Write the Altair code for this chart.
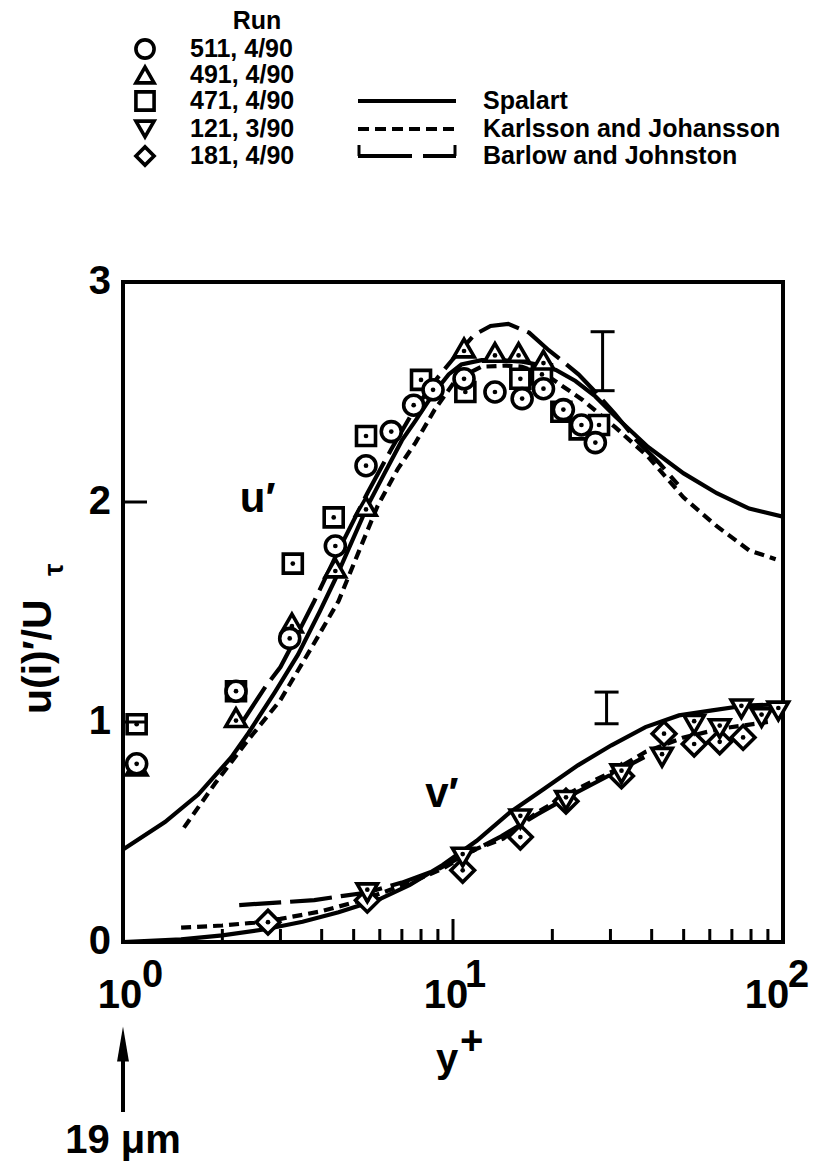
import altair as alt
import pandas as pd

FONT = "Liberation Sans Narrow, Liberation Sans, Arial, sans-serif"

# ---------------- data ----------------
# u' measurements
u511_x = [1.1, 2.2, 3.2, 4.4, 5.45, 6.5, 7.6, 8.7, 10.8, 13.4, 16.2, 18.8, 21.6, 24.5, 27.0]
u511_y = [0.81, 1.14, 1.38, 1.80, 2.165, 2.32, 2.44, 2.51, 2.56, 2.50, 2.47, 2.515, 2.42, 2.35, 2.27]
u491_x = [1.1, 2.2, 3.25, 4.4, 5.45, 10.8, 13.4, 15.8, 18.8]
u491_y = [0.80, 1.02, 1.45, 1.70, 1.98, 2.70, 2.68, 2.68, 2.645]
u471_x = [1.1, 2.2, 3.27, 4.35, 5.45, 8.0, 10.9, 16.0, 18.6, 21.3, 24.2, 27.7]
u471_y = [0.99, 1.14, 1.72, 1.93, 2.30, 2.555, 2.50, 2.56, 2.58, 2.41, 2.33, 2.35]
# v' measurements
v121_x = [5.5, 10.7, 16.0, 22.0, 32.4, 43.0, 53.8, 64.3, 74.8, 86.1, 96.8]
v121_y = [0.224, 0.386, 0.56, 0.644, 0.765, 0.84, 0.99, 0.97, 1.06, 1.02, 1.05]
v181_x = [2.75, 5.5, 10.7, 16.0, 22.0, 32.4, 43.6, 53.8, 64.3, 75.7]
v181_y = [0.09, 0.19, 0.326, 0.477, 0.64, 0.755, 0.947, 0.90, 0.91, 0.93]

# model curves
spal_u_x = [1.0, 1.34, 1.69, 2.13, 2.4, 2.88, 3.39, 3.94, 4.4, 5.5, 6.2, 7.0, 7.7, 8.7, 9.7, 10.6,
            12.2, 14.0, 16.2, 18.0, 20.5, 23.5, 27.0, 31.0, 39.0, 50.0, 63.0, 79.0, 100.0]
spal_u_y = [0.42, 0.545, 0.67, 0.84, 0.95, 1.134, 1.306, 1.50, 1.65, 1.98, 2.13, 2.28, 2.37, 2.49, 2.58, 2.625,
            2.645, 2.645, 2.638, 2.625, 2.60, 2.55, 2.48, 2.39, 2.25, 2.13, 2.04, 1.97, 1.933]
spal_v_x = [1.0, 1.5, 2.0, 2.7, 3.5, 4.5, 6.0, 7.4, 9.3, 11.8, 14.9, 18.9, 23.9, 30.2, 38.3, 48.4, 61.0, 77.0, 100.0]
spal_v_y = [0.0, 0.012, 0.03, 0.058, 0.092, 0.135, 0.195, 0.26, 0.35, 0.46, 0.59, 0.697, 0.803, 0.894, 0.977,
            1.03, 1.053, 1.075, 1.08]

kj_u_x = [1.53, 1.9, 2.4, 3.0, 3.7, 4.5, 5.2, 5.9, 6.8, 7.7, 8.8, 10.2, 12.2, 14.5, 16.2, 19.5, 24.7, 31.0,
          39.0, 50.0, 63.0, 79.0, 95.0]
kj_u_y = [0.52, 0.72, 0.92, 1.10, 1.33, 1.55, 1.78, 1.98, 2.15, 2.27, 2.42, 2.555, 2.615, 2.62, 2.615, 2.57,
          2.464, 2.34, 2.206, 2.02, 1.89, 1.78, 1.74]
kj_v_x = [1.5, 2.0, 2.5, 3.0, 4.0, 5.0, 6.0, 7.4, 9.3, 11.8, 14.2, 18.0, 23.9, 30.2, 38.3, 50.0, 65.0, 90.0]
kj_v_y = [0.065, 0.075, 0.088, 0.105, 0.14, 0.18, 0.22, 0.27, 0.333, 0.424, 0.47, 0.59, 0.697, 0.773, 0.864,
          0.93, 0.97, 1.0]

bj_u_x = [2.3, 2.7, 3.0, 3.2, 3.8, 4.5, 5.5, 6.5, 7.5, 8.7, 10.0, 11.6, 13.0, 14.7, 17.0, 19.5, 21.5, 24.0,
          27.0, 31.0, 36.0, 42.0, 48.0]
bj_u_y = [1.0, 1.16, 1.25, 1.33, 1.55, 1.78, 2.04, 2.24, 2.40, 2.54, 2.65, 2.76, 2.80, 2.81, 2.77, 2.69, 2.64,
          2.58, 2.50, 2.40, 2.28, 2.18, 2.08]
bj_v_x = [2.25, 3.0, 3.8, 4.65, 5.5, 7.0, 9.0, 11.0, 14.0, 18.0, 23.0, 30.0, 38.0]
bj_v_y = [0.168, 0.18, 0.19, 0.21, 0.225, 0.27, 0.33, 0.40, 0.48, 0.58, 0.67, 0.76, 0.84]

# uncertainty bars
err_x = [28.4, 29.2]
err_lo = [2.506, 0.992]
err_hi = [2.774, 1.136]

# text
run_labels = ["511, 4/90", "491, 4/90", "471, 4/90", "121, 3/90", "181, 4/90"]
model_labels = ["Spalart", "Karlsson and Johansson", "Barlow and Johnston"]
ytick_vals = [0, 1, 2, 3]
xminor = [2, 3, 4, 5, 6, 7, 8, 9, 20, 30, 40, 50, 60, 70, 80, 90]
xmajor = [10]
ann_x = [2.56, 9.26]
ann_y = [1.955, 0.614]
ann_t = ["u\u2032", "v\u2032"]

# ---------------- helpers ----------------
xs = alt.Scale(type="log", domain=[1, 100], nice=False)
ys = alt.Scale(domain=[0, 3], nice=False, zero=False)
X = alt.X("x:Q", scale=xs, axis=None)
Y = alt.Y("y:Q", scale=ys, axis=None)


def df_xy(xx, yy):
    return pd.DataFrame({"x": xx, "y": yy})


def curve_df(parts):
    frames = []
    for name, (xx, yy) in parts.items():
        d = df_xy(xx, yy)
        d["part"] = name
        frames.append(d)
    return pd.concat(frames, ignore_index=True)


def line_layer(d, dash=None):
    kw = dict(color="black", strokeWidth=4.2, clip=True, strokeCap="butt")
    if dash:
        kw["strokeDash"] = dash
    return alt.Chart(d).mark_line(**kw).encode(x=X, y=Y, detail="part:N", order="x:Q")


def marker_layer(d, shape, size, dot_off=0):
    ring = alt.Chart(d).mark_point(shape=shape, size=size, filled=True, fill="white", stroke="black",
                                   strokeWidth=3.6, opacity=1).encode(x=X, y=Y)
    dot = alt.Chart(d).mark_point(shape="circle", size=22, filled=True, color="black", opacity=1,
                                  yOffset=dot_off).encode(x=X, y=Y)
    return ring + dot


def txt(d, **kw):
    base = dict(font=FONT, fontWeight="bold", color="black")
    base.update(kw)
    return alt.Chart(d).mark_text(**base)


layers = []

# curves
layers.append(line_layer(curve_df({"u": (spal_u_x, spal_u_y), "v": (spal_v_x, spal_v_y)})))
layers.append(line_layer(curve_df({"u": (kj_u_x, kj_u_y), "v": (kj_v_x, kj_v_y)}), [10, 6]))
layers.append(line_layer(curve_df({"u": (bj_u_x, bj_u_y), "v": (bj_v_x, bj_v_y)}), [42, 9]))

# error bars
err = pd.DataFrame({"x": err_x, "lo": err_lo, "hi": err_hi})
layers.append(alt.Chart(err).mark_rule(color="black", strokeWidth=3).encode(
    x=X, y=alt.Y("lo:Q", scale=ys, axis=None), y2="hi:Q"))
for col in ["lo", "hi"]:
    layers.append(alt.Chart(err).mark_rule(color="black", strokeWidth=3, xOffset=-12, x2Offset=12).encode(
        x=X, x2="x:Q", y=alt.Y(f"{col}:Q", scale=ys, axis=None)))

# markers (draw order mimics overprinting)
layers.append(marker_layer(df_xy(u471_x, u471_y), "square", 361))
layers.append(marker_layer(df_xy(u491_x, u491_y), "triangle-up", 420, 3))
layers.append(marker_layer(df_xy(u511_x, u511_y), "circle", 400))
layers.append(marker_layer(df_xy(v181_x, v181_y), "diamond", 560))
layers.append(marker_layer(df_xy(v121_x, v121_y), "triangle-down", 420, -3))

# curve annotations u', v'
ann = pd.DataFrame({"x": ann_x, "y": ann_y, "t": ann_t})
layers.append(txt(ann, fontSize=42, align="center", baseline="alphabetic").encode(x=X, y=Y, text="t:N"))

# axis ticks (inward)
layers.append(alt.Chart(pd.DataFrame({"x": xminor})).mark_rule(color="black", strokeWidth=3).encode(
    x=X, y=alt.value(660), y2=alt.value(647)))
layers.append(alt.Chart(pd.DataFrame({"x": xmajor})).mark_rule(color="black", strokeWidth=3).encode(
    x=X, y=alt.value(660), y2=alt.value(637)))
layers.append(alt.Chart(pd.DataFrame({"y": [1, 2]})).mark_rule(color="black", strokeWidth=3).encode(
    y=Y, x=alt.value(0), x2=alt.value(24)))

# y tick labels
yt = pd.DataFrame({"y": ytick_vals, "t": [str(v) for v in ytick_vals]})
layers.append(txt(yt, fontSize=40, align="right", baseline="middle", dx=-12).encode(
    x=alt.value(0), y=Y, text="t:N"))

# x tick labels 10^n
for xv, ex, dxb, dxe in [(1, "0", -3, 19), (10, "1", -7, 12), (100, "2", -16, 5)]:
    d = pd.DataFrame({"x": [xv], "b": ["10"], "e": [ex]})
    layers.append(txt(d, fontSize=40, align="center", baseline="alphabetic", dx=dxb).encode(
        x=X, y=alt.value(726), text="b:N"))
    layers.append(txt(d, fontSize=38, align="left", baseline="alphabetic", dx=dxe).encode(
        x=X, y=alt.value(705), text="e:N"))

# x title y+
layers.append(txt(pd.DataFrame({"t": ["y"]}), fontSize=40, align="center", baseline="alphabetic").encode(
    x=alt.value(324), y=alt.value(790), text="t:N"))
layers.append(txt(pd.DataFrame({"t": ["+"]}), fontSize=40, align="left", baseline="alphabetic").encode(
    x=alt.value(337), y=alt.value(772), text="t:N"))

# y title u(i)'/U_tau
layers.append(txt(pd.DataFrame({"t": ["u(i)\u2032/U"]}), fontSize=41, angle=270, align="left",
                  baseline="alphabetic").encode(x=alt.value(-72), y=alt.value(432), text="t:N"))
layers.append(txt(pd.DataFrame({"t": ["\u03c4"]}), fontSize=28, angle=270, align="left",
                  baseline="alphabetic").encode(x=alt.value(-60), y=alt.value(294), text="t:N"))

# arrow and 19 um
arr = pd.DataFrame({"x": [1], "t": ["19 \u03bcm"]})
layers.append(alt.Chart(arr).mark_rule(color="black", strokeWidth=4).encode(
    x=X, y=alt.value(775), y2=alt.value(830)))
layers.append(alt.Chart(arr).mark_point(shape="M0,-1L0.34,1L-0.34,1Z", size=1225, filled=True,
                                        color="black", opacity=1).encode(x=X, y=alt.value(762)))
layers.append(txt(arr, fontSize=40, align="center", baseline="alphabetic").encode(
    x=X, y=alt.value(871), text="t:N"))

# ---------------- legend (top) ----------------
row_y = [-233, -207, -181, -153, -126]
leg = pd.DataFrame({"py": row_y, "t": run_labels,
                    "shape": ["circle", "triangle-up", "square", "triangle-down", "diamond"]})
PY = alt.Y("py:Q", scale=None, axis=None)
layers.append(alt.Chart(leg).mark_point(size=330, filled=True, fill="white", stroke="black",
                                        strokeWidth=3.6, opacity=1).encode(
    x=alt.value(22), y=PY, shape=alt.Shape("shape:N", scale=None, legend=None)))
layers.append(txt(leg, fontSize=25, align="left", baseline="middle").encode(
    x=alt.value(67), y=PY, text="t:N"))
layers.append(txt(pd.DataFrame({"t": ["Run"]}), fontSize=25, align="center", baseline="middle").encode(
    x=alt.value(134), y=alt.value(-261), text="t:N"))

mleg = pd.DataFrame({"py": row_y[2:], "t": model_labels})
layers.append(txt(mleg, fontSize=25, align="left", baseline="middle").encode(
    x=alt.value(360), y=PY, text="t:N"))
layers.append(alt.Chart(mleg.iloc[[0]]).mark_rule(color="black", strokeWidth=4.2).encode(
    x=alt.value(235), x2=alt.value(333), y=PY))
layers.append(alt.Chart(mleg.iloc[[1]]).mark_rule(color="black", strokeWidth=4.2, strokeDash=[11, 6]).encode(
    x=alt.value(235), x2=alt.value(335), y=PY))
layers.append(alt.Chart(mleg.iloc[[2]]).mark_rule(color="black", strokeWidth=4.2).encode(
    x=alt.value(235), x2=alt.value(289), y=PY))
layers.append(alt.Chart(mleg.iloc[[2]]).mark_rule(color="black", strokeWidth=4.2).encode(
    x=alt.value(300), x2=alt.value(333), y=PY))
layers.append(alt.Chart(mleg.iloc[[2]]).mark_rule(color="black", strokeWidth=3, y2Offset=-11).encode(
    x=alt.value(236), y=PY, y2="py:Q"))
layers.append(alt.Chart(mleg.iloc[[2]]).mark_rule(color="black", strokeWidth=3, y2Offset=-11).encode(
    x=alt.value(332), y=PY, y2="py:Q"))

chart = alt.layer(*layers).properties(
    width=660, height=660,
    autosize=alt.AutoSizeParams(type="none"),
    padding={"left": 123, "top": 282, "right": 41, "bottom": 222},
    background="white",
).configure_view(stroke="black", strokeWidth=4)

chart.save("out.html", embed_options={"renderer": "svg", "actions": False})
